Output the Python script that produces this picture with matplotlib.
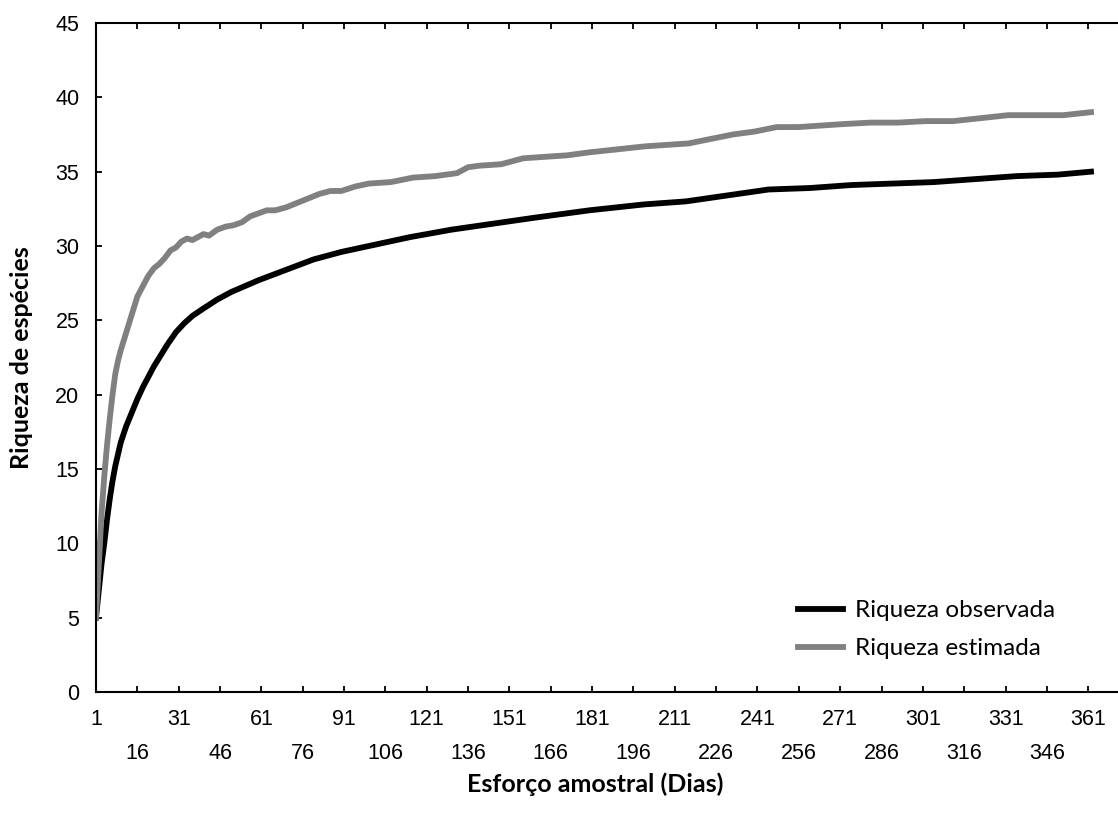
import numpy as np
import matplotlib
matplotlib.use("Agg")
import matplotlib.pyplot as plt

# values
days_obs = [1, 2, 3, 4, 5, 6, 7, 8, 10, 12, 14, 16, 18, 20, 22, 24, 27, 30, 33, 36,
            40, 45, 50, 55, 60, 70, 80, 90, 100, 115, 130, 145, 160, 180, 200, 215,
            230, 245, 260, 275, 290, 305, 320, 335, 350, 362]
obs = [5.0, 6.8, 8.6, 10.0, 11.6, 13.0, 14.2, 15.2, 16.8, 17.9, 18.8, 19.7, 20.5, 21.2,
       21.9, 22.5, 23.4, 24.2, 24.8, 25.3, 25.8, 26.4, 26.9, 27.3, 27.7, 28.4, 29.1,
       29.6, 30.0, 30.6, 31.1, 31.5, 31.9, 32.4, 32.8, 33.0, 33.4, 33.8, 33.9, 34.1,
       34.2, 34.3, 34.5, 34.7, 34.8, 35.0]

days_est = [1, 2, 3, 4, 5, 6, 7, 8, 9, 10, 12, 14, 16, 18, 20, 22, 24, 26, 28, 30,
            32, 34, 36, 38, 40, 42, 45, 48, 51, 54, 57, 60, 63, 66, 70, 74, 78, 82, 86, 90,
            95, 100, 108, 116, 124, 132, 136, 140, 148, 156, 164, 172, 180, 190, 200, 208,
            216, 224, 232, 240, 248, 256, 264, 272, 282, 292, 302, 312, 322, 332, 342, 352, 362]
est = [5.0, 8.5, 12.0, 14.5, 16.6, 18.4, 20.0, 21.4, 22.3, 23.0, 24.2, 25.4, 26.6, 27.3,
       28.0, 28.5, 28.8, 29.2, 29.7, 29.9, 30.3, 30.5, 30.4, 30.6, 30.8, 30.7, 31.1, 31.3,
       31.4, 31.6, 32.0, 32.2, 32.4, 32.4, 32.6, 32.9, 33.2, 33.5, 33.7, 33.7, 34.0, 34.2,
       34.3, 34.6, 34.7, 34.9, 35.3, 35.4, 35.5, 35.9, 36.0, 36.1, 36.3, 36.5, 36.7, 36.8,
       36.9, 37.2, 37.5, 37.7, 38.0, 38.0, 38.1, 38.2, 38.3, 38.3, 38.4, 38.4, 38.6, 38.8,
       38.8, 38.8, 39.0]

major_ticks = list(range(1, 362, 30))
minor_ticks = list(range(16, 347, 30))
y_ticks = list(range(0, 46, 5))

plt.rcParams['font.family'] = ['Liberation Sans', 'DejaVu Sans']
label_font = ['Lato', 'DejaVu Sans']

fig = plt.figure(figsize=(11.18, 8.13), dpi=100)
ax = fig.add_axes([96 / 1118, 121 / 813, 1022 / 1118, 669 / 813])

ax.plot(days_obs, obs, color='black', lw=4.2, label='Riqueza observada')
ax.plot(days_est, est, color='#808080', lw=4.2, label='Riqueza estimada')

ax.set_xlim(1, 371.8)
ax.set_ylim(0, 45)
ax.set_xticks(major_ticks)
ax.set_xticks(minor_ticks, minor=True)
ax.set_xticklabels([str(t) for t in major_ticks])
ax.set_xticklabels([str(t) for t in minor_ticks], minor=True)
ax.set_yticks(y_ticks)

ax.spines['right'].set_visible(False)
for s in ['left', 'bottom', 'top']:
    ax.spines[s].set_linewidth(1.5)

ax.tick_params(axis='x', which='both', direction='in', top=True, length=4,
               width=1.3, labelsize=15.5)
ax.tick_params(axis='x', which='major', pad=12)
ax.tick_params(axis='x', which='minor', pad=37)
ax.tick_params(axis='y', direction='in', length=4, width=1.3, labelsize=15.5, pad=12)

ax.set_xlabel('Esforço amostral (Dias)', fontsize=18, fontweight='bold', family=label_font)
ax.set_ylabel('Riqueza de espécies', fontsize=18, fontweight='bold', family=label_font)
ax.xaxis.set_label_coords(0.488, -0.12)
ax.yaxis.set_label_coords(-0.062, 0.5)

leg = ax.legend(loc='upper left', bbox_to_anchor=(798 / 1118, 1 - 600 / 813),
                bbox_transform=fig.transFigure, borderaxespad=0, borderpad=0,
                frameon=False, prop={'family': label_font, 'size': 17.5},
                handlelength=1.85, handletextpad=0.5, labelspacing=0.7)

fig.savefig('out.png', dpi=100)
